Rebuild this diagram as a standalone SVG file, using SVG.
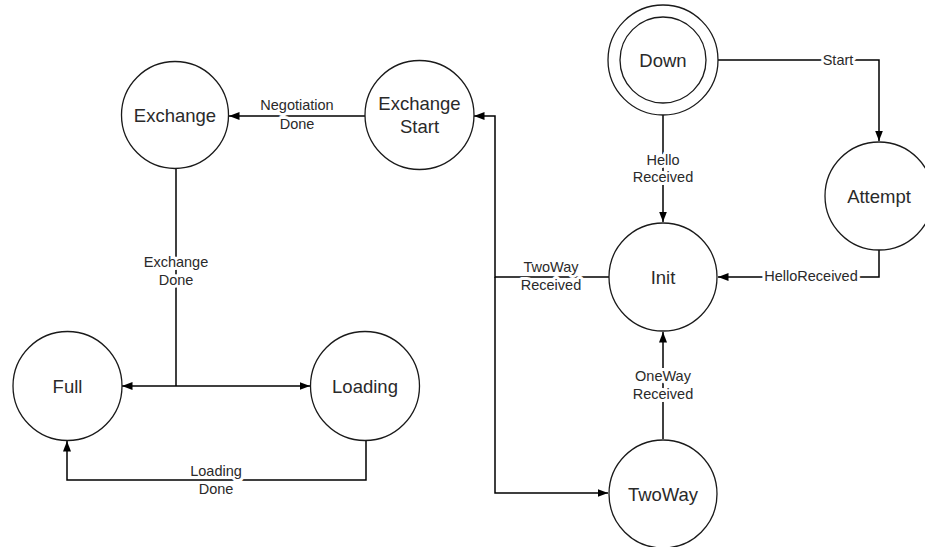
<svg xmlns="http://www.w3.org/2000/svg" width="925" height="547" viewBox="0 0 925 547">
  <style>
    .state { fill: #ffffff; stroke: #1a1a1a; stroke-width: 1.3; }
    .name { font-family: "Liberation Sans", Arial, sans-serif; font-size: 18.5px; fill: #2a2a2a; text-anchor: middle; dominant-baseline: central; }
    .edge { fill: none; stroke: #000000; stroke-width: 1.5; }
    .arrow { marker-end: url(#head); }
    .label { font-family: "Liberation Sans", Arial, sans-serif; font-size: 14.5px; fill: #2a2a2a; text-anchor: middle; dominant-baseline: central; stroke: #ffffff; stroke-width: 6; stroke-linejoin: round; paint-order: stroke; }
  </style>
  <defs>
    <marker id="head" markerUnits="userSpaceOnUse" markerWidth="11" markerHeight="9" refX="10.5" refY="4" orient="auto">
      <path d="M0,0 L10.5,4 L0,8 z" fill="#000000"/>
    </marker>
  </defs>
  <rect width="925" height="547" fill="#ffffff"/>

  <!-- transitions -->
  <g id="connectors">
    <path class="edge arrow" d="M718,60 H879 V141"/>
    <path class="edge arrow" d="M663,115 V222"/>
    <path class="edge arrow" d="M879,250 V277 H718"/>
    <path class="edge arrow" d="M609,277 H495 V116 H474"/>
    <path class="edge arrow" d="M495,277 V493 H608"/>
    <path class="edge arrow" d="M365,116 H229"/>
    <path class="edge" d="M176,169 V386"/>
    <path class="edge arrow" d="M176,386 H122"/>
    <path class="edge arrow" d="M176,386 H310"/>
    <path class="edge arrow" d="M366,440 V480 H67 V441"/>
    <path class="edge arrow" d="M663,439 V332"/>
  </g>

  <!-- transition labels -->
  <g id="labels">
    <text class="label" x="838" y="60">Start</text>
    <text class="label" x="663" y="160">Hello</text>
    <text class="label" x="663" y="177">Received</text>
    <text class="label" x="811" y="276">HelloReceived</text>
    <text class="label" x="551" y="267">TwoWay</text>
    <text class="label" x="551" y="285">Received</text>
    <text class="label" x="297" y="105">Negotiation</text>
    <text class="label" x="297" y="124">Done</text>
    <text class="label" x="176" y="262">Exchange</text>
    <text class="label" x="176" y="280">Done</text>
    <text class="label" x="216" y="471">Loading</text>
    <text class="label" x="216" y="489">Done</text>
    <text class="label" x="663" y="376">OneWay</text>
    <text class="label" x="663" y="394">Received</text>
  </g>

  <!-- states -->
  <g id="down">
    <circle class="state" cx="663" cy="60" r="55"/>
    <circle class="state" cx="663" cy="60" r="43"/>
    <text class="name" x="663" y="60">Down</text>
  </g>
  <g id="attempt">
    <circle class="state" cx="879" cy="196" r="54"/>
    <text class="name" x="879" y="196">Attempt</text>
  </g>
  <g id="init">
    <circle class="state" cx="663" cy="277" r="54"/>
    <text class="name" x="663" y="277">Init</text>
  </g>
  <g id="twoway">
    <circle class="state" cx="663" cy="494" r="54"/>
    <text class="name" x="663" y="494">TwoWay</text>
  </g>
  <g id="exchange-start">
    <circle class="state" cx="419.5" cy="115" r="54.5"/>
    <text class="name" x="419.5" y="103">Exchange</text>
    <text class="name" x="419.5" y="126">Start</text>
  </g>
  <g id="exchange">
    <circle class="state" cx="175" cy="115" r="53.5"/>
    <text class="name" x="175" y="115">Exchange</text>
  </g>
  <g id="full">
    <circle class="state" cx="67.5" cy="386" r="54.5"/>
    <text class="name" x="67.5" y="386">Full</text>
  </g>
  <g id="loading">
    <circle class="state" cx="365" cy="386" r="54.5"/>
    <text class="name" x="365" y="386">Loading</text>
  </g>
</svg>
